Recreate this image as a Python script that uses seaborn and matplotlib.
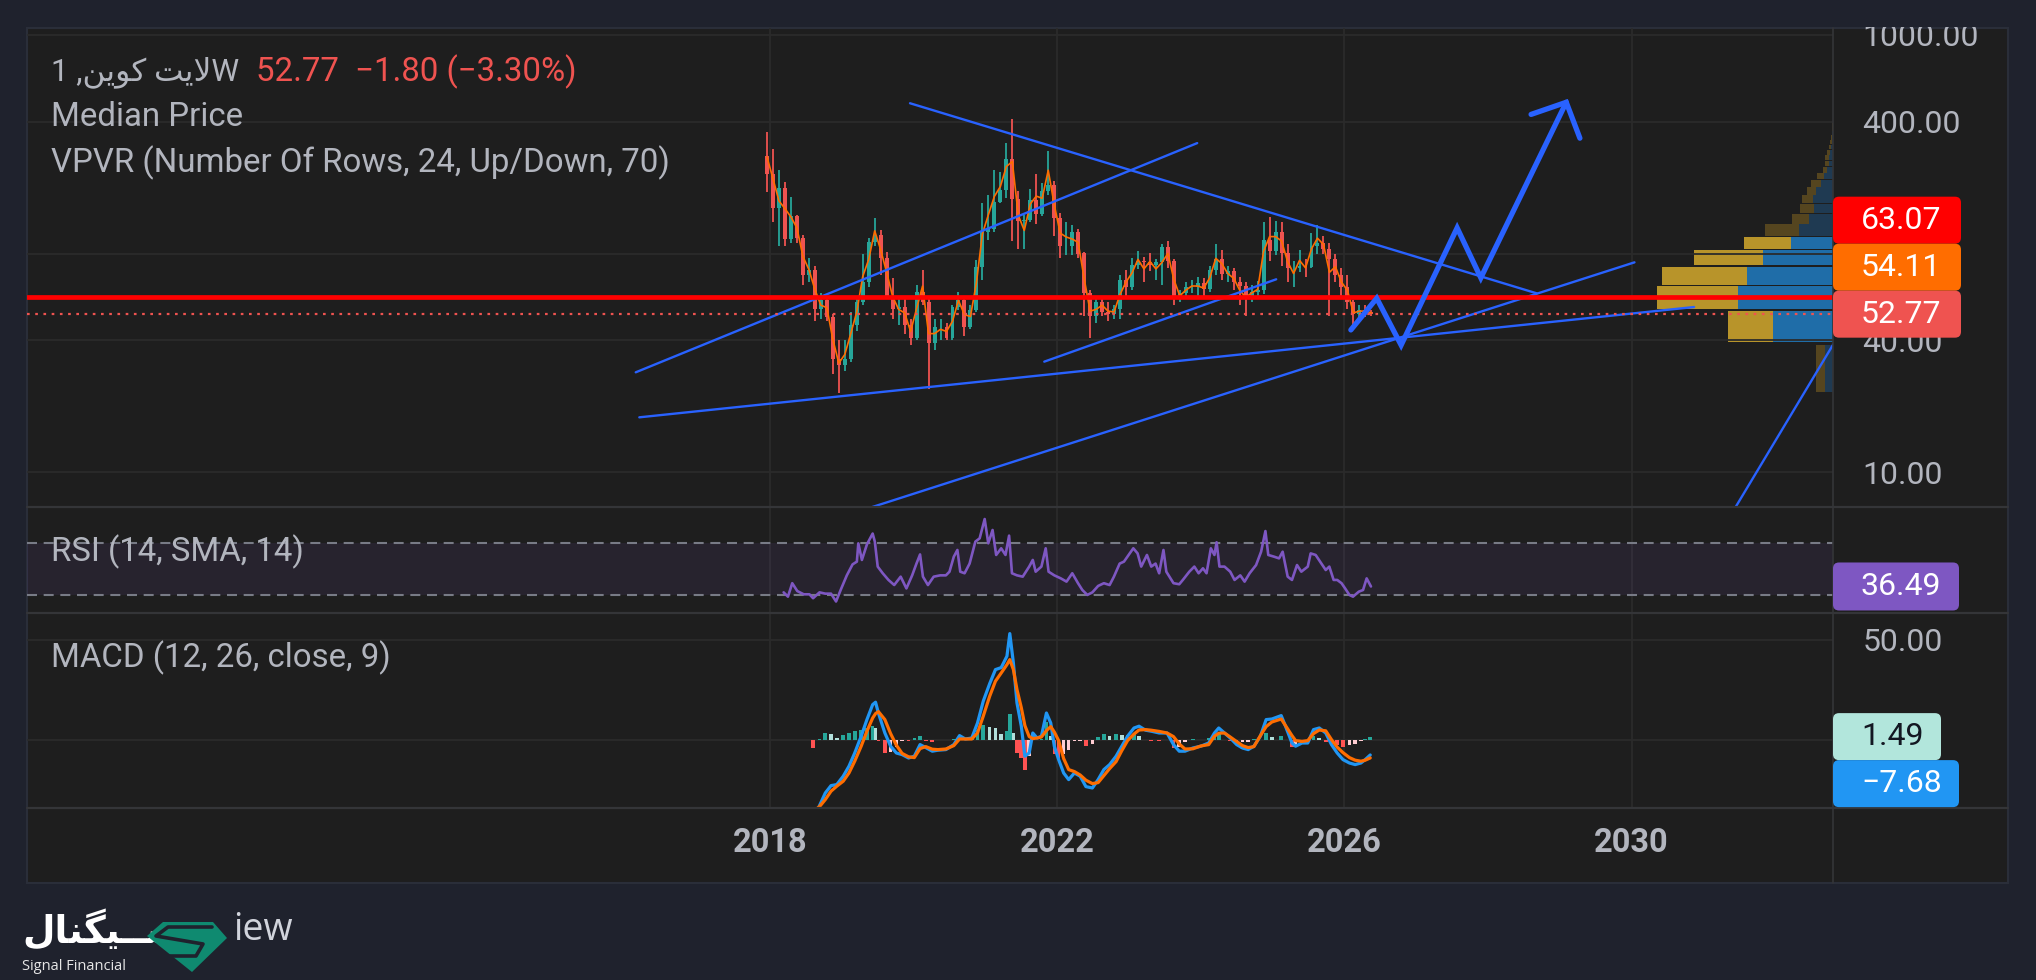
import numpy as np
import pandas as pd
import matplotlib
matplotlib.use("Agg")
import matplotlib.pyplot as plt
import seaborn as sns
from matplotlib.patches import Rectangle, FancyBboxPatch, Polygon
from matplotlib.lines import Line2D
from matplotlib.transforms import IdentityTransform
from matplotlib.ticker import NullLocator

W, H = 2036, 980

# ---------------- data ----------------
# monthly candles (weekly chart condensed), first month Dec 2017
first_month = "2017-12"
first_open = 280
month_high = [361, 300, 240, 213, 182, 150, 122, 95, 88, 66,
              64, 53, 40, 40, 54, 64, 99, 118, 146, 128,
              102, 77, 64, 64, 50, 72, 84, 62, 50, 50,
              48, 58, 67, 63, 58, 93, 170, 186, 240, 235,
              320, 413, 194, 150, 197, 230, 210, 296, 215, 153,
              140, 135, 130, 102, 68, 63, 64, 60, 58, 80,
              84, 95, 103, 96, 101, 94, 110, 114, 94, 68,
              74, 76, 78, 77, 88, 110, 104, 88, 86, 78,
              74, 72, 75, 140, 147, 141, 140, 110, 92, 104,
              94, 124, 135, 120, 112, 100, 86, 80, 61, 58,
              58, 55]
month_low = [192, 140, 108, 108, 112, 112, 72, 74, 49, 50,
             49, 28, 23, 29, 32, 44, 58, 70, 108, 80,
             62, 50, 47, 43, 38, 40, 58, 24, 36, 40,
             40, 40, 55, 42, 45, 54, 76, 115, 125, 170,
             180, 114, 105, 105, 140, 136, 148, 185, 120, 95,
             98, 98, 95, 52, 41, 48, 52, 49, 50, 50,
             64, 68, 85, 74, 83, 76, 72, 86, 58, 60,
             62, 66, 64, 62, 67, 80, 76, 74, 68, 58,
             52, 60, 62, 65, 92, 98, 88, 74, 70, 82,
             78, 86, 100, 100, 52, 74, 62, 56, 46, 51,
             51, 52]
month_close = [230, 162, 200, 117, 148, 118, 80, 84, 56, 61,
               51, 33, 31, 33, 47, 60, 74, 113, 122, 95,
               64, 56, 57, 47, 41, 67, 60, 39, 46, 46,
               41, 57, 61, 46, 55, 87, 125, 130, 172, 196,
               271, 177, 141, 143, 176, 151, 194, 206, 146, 108,
               108, 126, 100, 66, 52, 60, 54, 53, 56, 76,
               70, 89, 92, 91, 89, 91, 107, 92, 64, 66,
               70, 70, 73, 69, 84, 94, 81, 83, 74, 71,
               64, 67, 68, 115, 103, 126, 101, 86, 86, 88,
               87, 108, 112, 105, 94, 80, 70, 60, 53, 55,
               54, 52.77]

last_price = 52.77
median_last = 54.11
hline_price = 63.07

# VPVR, 24 rows between the visible low and high
vp_low, vp_high = 22.6, 413.0
vp_up = [8, 60, 95, 86, 70, 42, 34, 24, 19, 20, 16.7, 12, 8.7, 6, 4, 4,
         3.3, 2, 1.3, 1, 0.5, 0.4, 0.3, 0.2]
vp_down = [9, 45, 81, 85, 69, 47, 34, 17, 14, 11, 9.3, 10, 7.3, 4, 4, 4,
           2.7, 2, 1.4, 1, 0.5, 0.4, 0.3, 0.2]
vp_value_area = [1, 2, 3, 4, 5]

# drawings (date, price)
trendlines = [
    ([2019.95, 2028.68], [487, 65.7]),
    ([2016.13, 2023.95], [28.6, 320]),
    ([2016.18, 2030.87], [17.8, 56.9]),
    ([2021.82, 2025.05], [32.0, 76.2]),
    ([2019.00, 2030.04], [6.24, 91.1]),
    ([2030.95, 2033.04], [3.69, 51.4]),
]
proj_dates = [2026.09, 2026.45, 2026.79, 2027.57, 2027.90, 2029.09]
proj_prices = [44.7, 62.4, 38.1, 131, 77.4, 492]
head_dates = [2028.60, 2029.09, 2029.28]
head_prices = [433, 492, 337]

# RSI
rsi_dates = [2018.19, 2018.25, 2018.31, 2018.38, 2018.47, 2018.55, 2018.60, 2018.69, 2018.77, 2018.85,
             2018.92, 2018.99, 2019.07, 2019.15, 2019.21, 2019.23, 2019.28, 2019.35, 2019.43, 2019.46,
             2019.50, 2019.57, 2019.65, 2019.73, 2019.82, 2019.90, 2019.98, 2020.04, 2020.09, 2020.13,
             2020.20, 2020.28, 2020.37, 2020.45, 2020.50, 2020.56, 2020.61, 2020.65, 2020.71, 2020.78,
             2020.86, 2020.92, 2020.99, 2021.04, 2021.10, 2021.15, 2021.22, 2021.28, 2021.33, 2021.37,
             2021.44, 2021.52, 2021.61, 2021.66, 2021.70, 2021.78, 2021.84, 2021.88, 2021.96, 2022.05,
             2022.13, 2022.21, 2022.29, 2022.35, 2022.42, 2022.49, 2022.57, 2022.65, 2022.73, 2022.79,
             2022.87, 2022.93, 2023.01, 2023.06, 2023.12, 2023.17, 2023.25, 2023.31, 2023.37, 2023.42,
             2023.48, 2023.52, 2023.62, 2023.70, 2023.75, 2023.84, 2023.91, 2023.97, 2024.03, 2024.08,
             2024.14, 2024.19, 2024.22, 2024.26, 2024.33, 2024.41, 2024.47, 2024.55, 2024.61, 2024.68,
             2024.77, 2024.84, 2024.90, 2024.94, 2025.02, 2025.09, 2025.14, 2025.21, 2025.27, 2025.34,
             2025.40, 2025.49, 2025.53, 2025.60, 2025.68, 2025.74, 2025.79, 2025.85, 2025.90, 2025.96,
             2026.01, 2026.07, 2026.12, 2026.20, 2026.26, 2026.31, 2026.37]
rsi_values = [32, 28.7, 39, 33, 30.5, 30.5, 27.5, 32, 31, 31,
              25, 34.6, 45, 53.4, 55.5, 69.5, 56.8, 68.7, 77, 70.8,
              51.7, 46.6, 41.5, 37.6, 44, 35, 45, 54, 61, 44,
              37.6, 44, 45, 45, 47.8, 59.3, 64.4, 47.8, 46.6, 54,
              70.8, 73.3, 88.1, 69.5, 79.7, 60.6, 65.7, 60.6, 75.4, 46.6,
              45, 44, 51.7, 56.8, 47.8, 51.7, 65.7, 47.8, 45, 42.7,
              40.2, 46.6, 39, 33.8, 30, 32, 36.9, 39, 37.6, 44,
              54, 55.5, 61.8, 65.7, 61.8, 51.7, 60.6, 51.7, 54, 46.6,
              64.4, 47.8, 39, 38.2, 41.5, 47.8, 51.7, 46.6, 50.4, 46.6,
              65.7, 60.6, 70.3, 51.7, 51.7, 47.8, 41.5, 45, 40.2, 46.6,
              52.9, 63.1, 78.9, 60.6, 59.3, 58, 63.1, 44, 41.5, 52.9,
              47.8, 51.7, 61.8, 60.6, 54, 49.1, 51.7, 41.5, 41.5, 39,
              35, 30, 28.7, 32.5, 33.8, 42.7, 36.49]

# MACD
macd_dates = [2018.60, 2018.69, 2018.77, 2018.85, 2018.93, 2019.02, 2019.10, 2019.18, 2019.27, 2019.35,
              2019.43, 2019.47, 2019.51, 2019.60, 2019.68, 2019.76, 2019.84, 2019.93, 2020.01, 2020.09,
              2020.17, 2020.26, 2020.34, 2020.45, 2020.56, 2020.64, 2020.72, 2020.81, 2020.89, 2020.97,
              2021.06, 2021.14, 2021.22, 2021.30, 2021.34, 2021.39, 2021.44, 2021.50, 2021.55, 2021.61,
              2021.66, 2021.72, 2021.78, 2021.85, 2021.91, 2021.96, 2022.02, 2022.09, 2022.16, 2022.24,
              2022.32, 2022.40, 2022.49, 2022.57, 2022.65, 2022.73, 2022.82, 2022.90, 2022.98, 2023.07,
              2023.14, 2023.23, 2023.31, 2023.42, 2023.53, 2023.62, 2023.70, 2023.78, 2023.89, 2024.00,
              2024.11, 2024.19, 2024.25, 2024.33, 2024.41, 2024.50, 2024.58, 2024.66, 2024.74, 2024.83,
              2024.91, 2024.99, 2025.12, 2025.18, 2025.27, 2025.32, 2025.41, 2025.49, 2025.57, 2025.65,
              2025.74, 2025.82, 2025.90, 2025.98, 2026.07, 2026.15, 2026.23, 2026.29, 2026.36]
macd_values = [-40, -33, -26.7, -23, -22.5, -18.3, -13.3, -6.7, 1.7, 10,
               17.5, 18.7, 13.3, 3.3, -3.3, -6.7, -7.5, -9.2, -8.3, -2.5,
               -4, -5.8, -5.3, -5, -2.5, 2, 0.3, 0.8, 8.3, 19.2,
               28, 35, 36, 41.7, 53, 38.3, 18.3, 6.7, -8.3, -6.7,
               3.3, 0.8, 1.7, 13.3, 8.3, -3.3, -10, -16.7, -20, -16.7,
               -18.3, -23.5, -24.2, -20, -15, -12.5, -8.3, -3.3, 1.7, 5.8,
               6.7, 4.7, 4.2, 3.3, 3.3, -2.5, -5.8, -5.8, -4.2, -3.3,
               -1.7, 3.3, 5.8, 3.3, 0.8, -2.5, -4.2, -5, -3.3, 1.7,
               10, 10.3, 12, 6.7, -1.7, -3.3, -1.7, -1.7, 5, 5.8,
               3.3, -2.5, -6.7, -10, -11.7, -12.5, -11.7, -10, -7.68]
signal_values = [-36, -33.5, -30, -25.8, -23.3, -20.8, -16.7, -10.8, -3.3, 4.2,
                 10.8, 13, 14, 10, 3, -2.8, -6.9, -8.6, -9, -4.5,
                 -3.5, -4.8, -5, -4.7, -3, 0.3, 0.3, 0.3, 3.3, 11.7,
                 21.7, 29.2, 33.3, 37.5, 40, 35, 25, 16, 7, 1.5,
                 0.5, 0.8, 1.3, 4.5, 6.5, 3.8, -0.5, -9.5, -15, -16,
                 -17.7, -20.3, -22, -21.5, -18, -14.5, -11, -5.5, -0.5, 2.8,
                 4.8, 5, 4.7, 4.1, 3.3, 1.5, -2.2, -4.7, -4.6, -3.2,
                 -2.5, 1.7, 3.2, 3.3, 1.3, -1, -3, -4, -3.5, 2,
                 6.5, 8.8, 10.3, 7, 2, -0.5, -0.9, -0.5, 3, 4.8,
                 4.4, 0, -3.8, -6.5, -9, -10.3, -10.8, -10.3, -9.17]
hist_last = 1.49

year_ticks = [2018, 2022, 2026, 2030]
price_ticks = [10, 40, 100, 400, 1000]
price_tick_labels = ["10.00", "40.00", "", "400.00", "1000.00"]  # 100.00 sits under the value boxes

# text, Arabic script given in display (shaped, left-to-right) order
title_ar = "\uFEE6\uFBFE\uFEEE\uFB90 \uFE96\uFBFE\uFEFB"   # لایت کوین
logo_ar = "\uFEDD\uFE8E\uFEE8\uFB95\uFBFF\u0640\u0640\uFEB3"  # سیگنال

# ---------------- style ----------------
sns.set_theme(style="dark")
plt.rcParams["font.family"] = ["Roboto", "DejaVu Sans"]

BG_OUT = "#1f222d"
BG = "#1e1e1e"
GRID = "#2b2b2b"
SEP = "#343538"
TXT = "#b2b5be"
BLUE = "#2962ff"
UP, DOWN = "#26a69a", "#ef5350"
LEG = 23.8
AXF = 23


def frac(x0, y0, x1, y1):
    return [x0 / W, 1 - y1 / H, (x1 - x0) / W, (y1 - y0) / H]


def fpos(x, y):
    return x / W, 1 - y / H


fig = plt.figure(figsize=(W / 100, H / 100), dpi=100, facecolor=BG_OUT)
fig.add_artist(Rectangle(fpos(27, 883), (2008 - 27) / W, (883 - 28) / H,
                         transform=fig.transFigure, fc=BG, ec="#2a2e39", lw=1.5, zorder=-1))

ax = fig.add_axes(frac(27, 28, 1833, 507))
ax_rsi = fig.add_axes(frac(27, 507, 1833, 613), sharex=ax)
ax_macd = fig.add_axes(frac(27, 613, 1833, 808), sharex=ax)

for a in (ax, ax_rsi, ax_macd):
    a.patch.set_visible(False)
    for s in a.spines.values():
        s.set_visible(False)
    a.set_xticks(year_ticks)
    a.grid(True, axis="x", color=GRID, lw=1.3)
    a.set_axisbelow(True)
ax.set_xlim(2007.652, 2032.805)

# ---------------- main pane ----------------
ax.set_yscale("log")
ax.set_ylim(6.92, 1076)
ax.set_yticks(price_ticks)
ax.set_yticklabels(price_tick_labels)
ax.yaxis.set_minor_locator(NullLocator())
ax.yaxis.tick_right()
ax.tick_params(axis="y", length=0, pad=21, labelsize=AXF, labelcolor=TXT)
ax.tick_params(axis="x", length=0, labelbottom=False)
ax.grid(True, axis="y", color=GRID, lw=1.3)

# volume profile on a twin axis (volume runs leftwards from the price scale)
ax_vp = ax.twiny()
ax_vp.axis("off")
ax_vp.set_xlim(1806, 0)
edges = np.linspace(vp_low, vp_high, len(vp_up) + 1)
step = edges[1] - edges[0]
up_c = ["#1f6da8" if i in vp_value_area else "#1f3a52" for i in range(len(vp_up))]
dn_c = ["#b8942a" if i in vp_value_area else "#55451f" for i in range(len(vp_up))]
ax_vp.barh(edges[:-1] + 0.6, vp_up, height=step - 1.2, left=0, align="edge", color=up_c, lw=0)
ax_vp.barh(edges[:-1] + 0.6, vp_down, height=step - 1.2, left=vp_up, align="edge", color=dn_c, lw=0)
ax.set_zorder(ax_vp.get_zorder() + 1)

months = pd.period_range(first_month, periods=len(month_close), freq="M")
t = np.asarray(months.year + (months.month - 1) / 12 + 1 / 24, dtype=float)
high = np.array(month_high, float)
low = np.array(month_low, float)
close = np.array(month_close, float)
open_ = np.r_[first_open, close[:-1]]
cc = np.where(close >= open_, UP, DOWN)
ax.vlines(t, low, high, colors=cc, lw=1.3, zorder=3)
ax.bar(t, np.abs(close - open_) + 0.01, bottom=np.minimum(open_, close), width=0.055,
       color=cc, lw=0, zorder=3)
sns.lineplot(x=t, y=(high + low) / 2, ax=ax, color="#ff6d00", lw=1.2, zorder=4)

for xs, ys in trendlines:
    ax.plot(xs, ys, color=BLUE, lw=1.7, zorder=5)
ax.axhline(hline_price, color="#ff0000", lw=3.4, zorder=5)
ax.axhline(last_price, color="#ef5350", lw=1.6, ls=(0, (1.2, 2.5)), zorder=5)
ax.plot(proj_dates, proj_prices, color=BLUE, lw=3.8, solid_joinstyle="miter", zorder=6)
ax.plot(head_dates, head_prices, color=BLUE, lw=3.8, solid_joinstyle="miter", zorder=6)
ax.set_xlabel("")
ax.set_ylabel("")

# ---------------- RSI pane ----------------
ax_rsi.set_ylim(16.2, 97.3)
ax_rsi.set_yticks([])
ax_rsi.tick_params(axis="x", length=0, labelbottom=False)
ax_rsi.axhspan(30, 70, color="#7e57c2", alpha=0.1, lw=0)
for lvl in (30, 70):
    ax_rsi.axhline(lvl, color="#787b86", lw=1.5, ls=(0, (4.8, 3.2)))
sns.lineplot(x=rsi_dates, y=rsi_values, ax=ax_rsi, color="#7e57c2", lw=1.9)
ax_rsi.set_xlabel("")
ax_rsi.set_ylabel("")

# ---------------- MACD pane ----------------
ax_macd.set_ylim(-34.2, 63.3)
ax_macd.set_yticks([0, 50])
ax_macd.set_yticklabels(["", "50.00"])  # the zero label sits under the value boxes
ax_macd.yaxis.tick_right()
ax_macd.tick_params(axis="y", length=0, pad=21, labelsize=AXF, labelcolor=TXT)
ax_macd.grid(True, axis="y", color=GRID, lw=1.3)
ax_macd.set_xticklabels([str(y) for y in year_ticks])
ax_macd.tick_params(axis="x", length=0, pad=14, labelsize=23.5, labelcolor=TXT)
for lab in ax_macd.get_xticklabels():
    lab.set_fontweight("bold")

macd = np.array(macd_values)
sig = np.array(signal_values)
hist = macd - sig
prev = np.r_[hist[0], hist[:-1]]
hc = np.where(hist >= 0, np.where(hist >= prev, "#26a69a", "#b2dfdb"),
              np.where(hist <= prev, "#ff5252", "#ffcdd2"))
ax_macd.bar(macd_dates, hist, width=0.05, color=hc, lw=0, zorder=2)
sns.lineplot(x=macd_dates, y=macd_values, ax=ax_macd, color="#2196f3", lw=2.3, zorder=3)
sns.lineplot(x=macd_dates, y=signal_values, ax=ax_macd, color="#ff6d00", lw=2.3, zorder=4)
ax_macd.set_xlabel("")
ax_macd.set_ylabel("")

# ---------------- separators ----------------
for yy in (507, 613, 808):
    fig.add_artist(Line2D([27 / W, 2008 / W], [1 - yy / H] * 2, color=SEP, lw=1.6, zorder=4))
fig.add_artist(Line2D([1833 / W] * 2, [1 - 28 / H, 1 - 883 / H], color=SEP, lw=1.2, zorder=4))
# clip the top price label like the chart frame does
fig.add_artist(Rectangle((0, 1 - 27 / H), 1, 27 / H, transform=fig.transFigure,
                         fc=BG_OUT, ec="none", zorder=6))


# ---------------- price scale labels ----------------
def ypix(a, v):
    return H - a.transData.transform((2020, v))[1]


def scale_box(yc, text, fc, tc="white", w=128, h=47):
    box = FancyBboxPatch((1833, H - yc - h / 2), w, h, boxstyle="round,pad=0,rounding_size=6",
                         transform=IdentityTransform(), fc=fc, ec="none", zorder=7)
    fig.add_artist(box)
    fig.text(1861 / W, 1 - yc / H, text, color=tc, fontsize=AXF, va="center", ha="left", zorder=8)


c1 = ypix(ax, last_price)
c2 = min(ypix(ax, median_last), c1 - 47)
c3 = min(ypix(ax, hline_price), c2 - 47)
scale_box(c3, f"{hline_price:.2f}", "#ff0000")
scale_box(c2, f"{median_last:.2f}", "#ff6d00")
scale_box(c1, f"{last_price:.2f}", "#ef5350")

scale_box(ypix(ax_rsi, rsi_values[-1]), f"{rsi_values[-1]:.2f}", "#7e57c2", h=48, w=126)
ch = ypix(ax_macd, hist_last)
cm = max(ypix(ax_macd, macd_values[-1]), ch + 47)
scale_box(ch, f"{hist_last:.2f}", "#b2e6dc", tc="#131722", w=108)
scale_box(cm, f"{macd_values[-1]:.2f}".replace("-", "\u2212"), "#2196f3", w=126)

# ---------------- legends ----------------
fig.text(51 / W, 1 - 72 / H, "1 ," + title_ar + "W", color=TXT, fontsize=22.5, va="center")
fig.text(256 / W, 1 - 72 / H, "52.77  \u22121.80 (\u22123.30%)", color="#ef5350",
         fontsize=LEG, va="center")
fig.text(51 / W, 1 - 117 / H, "Median Price", color=TXT, fontsize=LEG, va="center")
fig.text(51 / W, 1 - 163 / H, "VPVR (Number Of Rows, 24, Up/Down, 70)", color=TXT,
         fontsize=LEG, va="center")
fig.text(51 / W, 1 - 552 / H, "RSI (14, SMA, 14)", color=TXT, fontsize=LEG, va="center")
fig.text(51 / W, 1 - 658 / H, "MACD (12, 26, close, 9)", color=TXT, fontsize=LEG, va="center")

# ---------------- watermark logo ----------------
fig.text(22 / W, 1 - 931 / H, logo_ar, color="white", fontsize=27, fontweight="bold",
         family=["DejaVu Sans"], ha="left", va="center")
fig.text(22 / W, 1 - 966 / H, "Signal Financial", color="#e6e6e6", fontsize=10.5,
         family=["Open Sans", "DejaVu Sans"], va="center")
fig.text(233 / W, 1 - 930 / H, "iew", color="#d1d4dc", fontsize=27,
         family=["Open Sans", "DejaVu Sans"], va="center")
gem = [(163, 922), (213, 922), (227, 938), (192, 972), (147, 936)]
fig.add_artist(Polygon([fpos(x, y) for x, y in gem], closed=True, transform=fig.transFigure,
                       fc="#0f8a70", ec="none", zorder=5))
s_path = [(212, 927), (168, 927), (156, 936), (203, 944), (196, 956), (170, 956)]
fig.add_artist(Line2D([x / W for x, _ in s_path], [1 - y / H for _, y in s_path],
                      color=BG_OUT, lw=2.6, zorder=6))

fig.savefig("out.png", dpi=100, facecolor=BG_OUT)
